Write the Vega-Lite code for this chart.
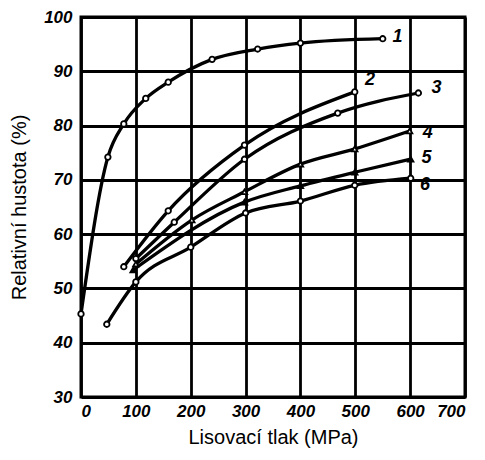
{
  "$schema": "https://vega.github.io/schema/vega-lite/v6.json",
  "width": 384,
  "height": 380,
  "autosize": {"type": "none"},
  "padding": {"left": 81, "top": 17, "right": 20, "bottom": 63},
  "background": "white",
  "config": {
    "view": {"stroke": "black", "strokeWidth": 3},
    "axis": {
      "grid": true, "gridColor": "black", "gridWidth": 2.8, "gridOpacity": 1,
      "domain": false, "ticks": false,
      "labelFont": "Liberation Sans", "labelFontStyle": "italic", "labelFontWeight": "bold",
      "labelFontSize": 17, "labelColor": "black",
      "titleFont": "Liberation Sans", "titleFontWeight": "normal", "titleFontSize": 20, "titleColor": "black"
    }
  },
  "datasets": {
    "curves": [
      {"s": "1", "p": 0, "d": 45.3}, {"s": "1", "p": 49, "d": 74.2}, {"s": "1", "p": 78, "d": 80.3},
      {"s": "1", "p": 118, "d": 85}, {"s": "1", "p": 159, "d": 88}, {"s": "1", "p": 239, "d": 92.2},
      {"s": "1", "p": 322, "d": 94.1}, {"s": "1", "p": 400, "d": 95.2}, {"s": "1", "p": 550, "d": 96},
      {"s": "2", "p": 78, "d": 54}, {"s": "2", "p": 159, "d": 64.3}, {"s": "2", "p": 298, "d": 76.4}, {"s": "2", "p": 499, "d": 86.2},
      {"s": "3", "p": 100, "d": 55.5}, {"s": "3", "p": 170, "d": 62.2}, {"s": "3", "p": 298, "d": 73.8}, {"s": "3", "p": 468, "d": 82.3}, {"s": "3", "p": 615, "d": 86},
      {"s": "4", "p": 100, "d": 54.5}, {"s": "4", "p": 202, "d": 62.6}, {"s": "4", "p": 298, "d": 67.8}, {"s": "4", "p": 400, "d": 72.9}, {"s": "4", "p": 499, "d": 75.7}, {"s": "4", "p": 599, "d": 79},
      {"s": "5", "p": 95, "d": 53.4}, {"s": "5", "p": 298, "d": 65.9}, {"s": "5", "p": 400, "d": 68.9}, {"s": "5", "p": 499, "d": 71.4}, {"s": "5", "p": 601, "d": 73.8},
      {"s": "6", "p": 47, "d": 43.4}, {"s": "6", "p": 100, "d": 51.2}, {"s": "6", "p": 200, "d": 57.6}, {"s": "6", "p": 300, "d": 63.9}, {"s": "6", "p": 400, "d": 66.1}, {"s": "6", "p": 499, "d": 69}, {"s": "6", "p": 601, "d": 70.3}
    ],
    "labels": [
      {"s": "1", "p": 577, "d": 96.3}, {"s": "2", "p": 527, "d": 88.4}, {"s": "3", "p": 648, "d": 87},
      {"s": "4", "p": 632, "d": 78.6}, {"s": "5", "p": 630, "d": 74}, {"s": "6", "p": 627, "d": 69}
    ]
  },
  "layer": [
    {
      "data": {"name": "curves"},
      "mark": {"type": "line", "interpolate": "monotone", "color": "black", "strokeWidth": 3.3},
      "encoding": {
        "x": {"field": "p", "type": "quantitative", "scale": {"domain": [0, 700]}, "axis": {"values": [0,100,200,300,400,500,600,700], "title": "Lisovací tlak (MPa)", "labelPadding": 6, "titlePadding": 8}},
        "y": {"field": "d", "type": "quantitative", "scale": {"domain": [30, 100]}, "axis": {"values": [30,40,50,60,70,80,90,100], "title": "Relativní hustota (%)", "labelPadding": 9, "titlePadding": 14}},
        "detail": {"field": "s"}
      }
    },
    {
      "data": {"name": "curves"},
      "mark": {"type": "point", "size": 30, "stroke": "black", "strokeWidth": 1.8, "opacity": 1},
      "encoding": {
        "x": {"field": "p", "type": "quantitative"},
        "y": {"field": "d", "type": "quantitative"},
        "shape": {"field": "s", "type": "nominal", "scale": {"domain": ["1","2","3","4","5","6"], "range": ["circle","circle","circle","triangle-up","triangle-up","circle"]}, "legend": null},
        "fill": {"field": "s", "type": "nominal", "scale": {"domain": ["1","2","3","4","5","6"], "range": ["white","white","white","white","black","white"]}, "legend": null}
      }
    },
    {
      "data": {"name": "labels"},
      "mark": {"type": "text", "font": "Liberation Sans", "fontStyle": "italic", "fontWeight": "bold", "fontSize": 18, "color": "black"},
      "encoding": {
        "x": {"field": "p", "type": "quantitative"},
        "y": {"field": "d", "type": "quantitative"},
        "text": {"field": "s"}
      }
    }
  ]
}
